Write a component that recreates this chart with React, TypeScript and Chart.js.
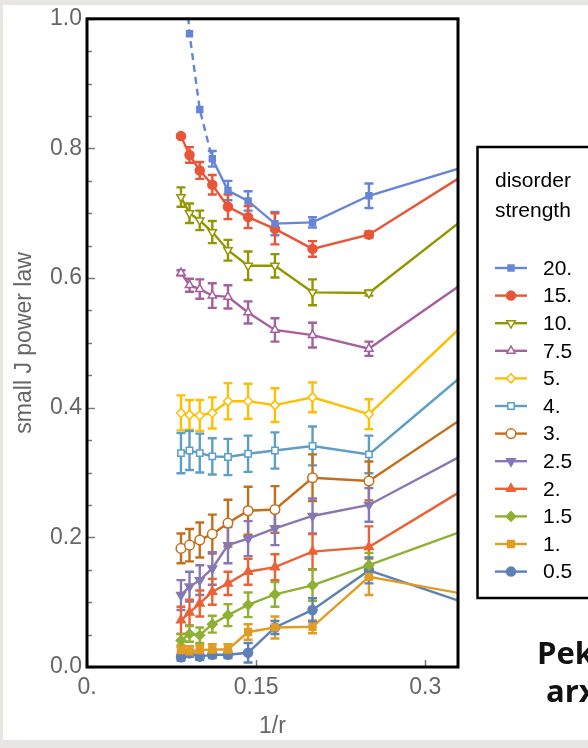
import React, { useEffect, useRef } from 'react';
import { Chart, registerables } from 'chart.js';

Chart.register(...registerables);

// System sizes r; the horizontal axis is 1/r
const radii = [12, 11, 10, 9, 8, 7, 6, 5, 4, 3];
const invR = radii.map((r) => 1 / r);

const xTickValues = [0, 0.15, 0.3];
const xTickLabels = ['0.', '0.15', '0.3'];
const yTickValues = [0, 0.2, 0.4, 0.6, 0.8, 1.0];
const yTickLabels = ['0.0', '0.2', '0.4', '0.6', '0.8', '1.0'];

const strengthLabels = ['20.', '15.', '10.', '7.5', '5.', '4.', '3.', '2.5', '2.', '1.5', '1.', '0.5'];

// exponent of the small-J power law, per disorder strength
const w20 = [1.15, 0.977, 0.86, 0.784, 0.735, 0.719, 0.684, 0.686, 0.727, 0.771];
const e20 = [0, 0, 0, 0.012, 0.015, 0.015, 0.018, 0.008, 0.019, 0];
const w15 = [0.819, 0.79, 0.766, 0.744, 0.71, 0.694, 0.676, 0.645, 0.667, 0.758];
const e15 = [0.003, 0.012, 0.013, 0.015, 0.019, 0.017, 0.024, 0.012, 0.005, 0];
const w10 = [0.725, 0.7, 0.689, 0.671, 0.643, 0.619, 0.619, 0.578, 0.577, 0.69];
const e10 = [0.015, 0.015, 0.015, 0.017, 0.016, 0.022, 0.018, 0.02, 0.004, 0];
const w7_5 = [0.608, 0.589, 0.583, 0.573, 0.571, 0.547, 0.52, 0.512, 0.491, 0.592];
const e7_5 = [0.004, 0.01, 0.015, 0.019, 0.018, 0.017, 0.018, 0.019, 0.011, 0];
const w5 = [0.392, 0.389, 0.388, 0.392, 0.41, 0.41, 0.404, 0.416, 0.39, 0.527];
const e5 = [0.027, 0.023, 0.024, 0.024, 0.028, 0.027, 0.026, 0.023, 0.023, 0];
const w4 = [0.33, 0.334, 0.33, 0.325, 0.324, 0.329, 0.334, 0.341, 0.328, 0.45];
const e4 = [0.031, 0.03, 0.03, 0.028, 0.028, 0.028, 0.028, 0.03, 0.029, 0];
const w3 = [0.183, 0.188, 0.196, 0.205, 0.222, 0.241, 0.243, 0.292, 0.287, 0.384];
const e3 = [0.023, 0.025, 0.027, 0.03, 0.036, 0.037, 0.036, 0.036, 0.03, 0];
const w2_5 = [0.111, 0.124, 0.134, 0.152, 0.188, 0.198, 0.214, 0.233, 0.25, 0.327];
const e2_5 = [0.023, 0.023, 0.023, 0.025, 0.028, 0.027, 0.026, 0.027, 0.026, 0];
const w2 = [0.072, 0.084, 0.098, 0.116, 0.129, 0.147, 0.154, 0.178, 0.185, 0.273];
const e2 = [0.021, 0.02, 0.02, 0.02, 0.018, 0.02, 0.02, 0.027, 0.032, 0];
const w1_5 = [0.041, 0.051, 0.049, 0.066, 0.08, 0.096, 0.112, 0.126, 0.157, 0.21];
const e1_5 = [0.01, 0.012, 0.012, 0.013, 0.017, 0.019, 0.019, 0.024, 0.019, 0];
const w1 = [0.026, 0.024, 0.026, 0.027, 0.027, 0.054, 0.061, 0.062, 0.139, 0.113];
const e1 = [0.008, 0.008, 0.008, 0.008, 0.008, 0.012, 0.017, 0.01, 0.028, 0];
const w0_5 = [0.015, 0.021, 0.016, 0.019, 0.019, 0.022, 0.061, 0.088, 0.149, 0.1];
const e0_5 = [0.005, 0.005, 0.005, 0.005, 0.005, 0.015, 0.01, 0.018, 0.02, 0];

type Marker = 'circle' | 'rect' | 'rectRot' | 'triangle' | 'triangleDown';

interface Series {
  label: string;
  color: string;
  values: number[];
  errors: number[];
  marker: Marker;
  open: boolean;
  size: number;
}

// listed top to bottom as in the legend
const series: Series[] = [
  { label: strengthLabels[0], color: '#6685D9', values: w20, errors: e20, marker: 'rect', open: false, size: 4.2 },
  { label: strengthLabels[1], color: '#E95536', values: w15, errors: e15, marker: 'circle', open: false, size: 4.5 },
  { label: strengthLabels[2], color: '#929600', values: w10, errors: e10, marker: 'triangleDown', open: true, size: 4.8 },
  { label: strengthLabels[3], color: '#A5609D', values: w7_5, errors: e7_5, marker: 'triangle', open: true, size: 4.8 },
  { label: strengthLabels[4], color: '#FFBF00', values: w5, errors: e5, marker: 'rectRot', open: true, size: 4.5 },
  { label: strengthLabels[5], color: '#5D9EC7', values: w4, errors: e4, marker: 'rect', open: true, size: 4.5 },
  { label: strengthLabels[6], color: '#C56E1A', values: w3, errors: e3, marker: 'circle', open: true, size: 4.8 },
  { label: strengthLabels[7], color: '#8778B3', values: w2_5, errors: e2_5, marker: 'triangleDown', open: false, size: 5 },
  { label: strengthLabels[8], color: '#EB6235', values: w2, errors: e2, marker: 'triangle', open: false, size: 5 },
  { label: strengthLabels[9], color: '#8FB032', values: w1_5, errors: e1_5, marker: 'rectRot', open: false, size: 4.8 },
  { label: strengthLabels[10], color: '#E19C24', values: w1, errors: e1, marker: 'rect', open: false, size: 4.8 },
  { label: strengthLabels[11], color: '#5E81B5', values: w0_5, errors: e0_5, marker: 'circle', open: false, size: 4.5 },
];

// the strongest-disorder curve is extrapolated (dashed) up to this point index
const DASHED_UNTIL = 3;

const LABEL_GRAY = '#666666';
const TICK_GRAY = '#7a7a7a';
const FONT = '"Liberation Sans", Arial, sans-serif';

function drawMarker(
  ctx: CanvasRenderingContext2D,
  marker: Marker,
  x: number,
  y: number,
  r: number,
  color: string,
  open: boolean
) {
  ctx.save();
  ctx.beginPath();
  if (marker === 'circle') {
    ctx.arc(x, y, r, 0, Math.PI * 2);
  } else if (marker === 'rect') {
    const s = r * Math.SQRT1_2;
    ctx.rect(x - s, y - s, 2 * s, 2 * s);
  } else if (marker === 'rectRot') {
    ctx.moveTo(x, y - r);
    ctx.lineTo(x + r, y);
    ctx.lineTo(x, y + r);
    ctx.lineTo(x - r, y);
    ctx.closePath();
  } else {
    let a = marker === 'triangle' ? 0 : Math.PI;
    for (let k = 0; k < 3; k++) {
      const px = x + Math.sin(a) * r;
      const py = y - Math.cos(a) * r;
      if (k === 0) ctx.moveTo(px, py);
      else ctx.lineTo(px, py);
      a += (2 * Math.PI) / 3;
    }
    ctx.closePath();
  }
  ctx.fillStyle = open ? '#ffffff' : color;
  ctx.fill();
  ctx.strokeStyle = color;
  ctx.lineWidth = 1.5;
  ctx.stroke();
  ctx.restore();
}

const errorBarPlugin = {
  id: 'errorBars',
  beforeDatasetsDraw(chart: any) {
    const { ctx, chartArea } = chart;
    const xs = chart.scales.x;
    const ys = chart.scales.y;
    ctx.save();
    ctx.beginPath();
    ctx.rect(chartArea.left, chartArea.top, chartArea.right - chartArea.left, chartArea.bottom - chartArea.top);
    ctx.clip();
    ctx.lineWidth = 2.4;
    series.forEach((s) => {
      ctx.strokeStyle = s.color;
      s.values.forEach((v, i) => {
        const e = s.errors[i];
        if (!e) return;
        const px = xs.getPixelForValue(invR[i]);
        const top = ys.getPixelForValue(v + e);
        const bot = ys.getPixelForValue(v - e);
        ctx.beginPath();
        ctx.moveTo(px, top);
        ctx.lineTo(px, bot);
        ctx.moveTo(px - 4.5, top);
        ctx.lineTo(px + 4.5, top);
        ctx.moveTo(px - 4.5, bot);
        ctx.lineTo(px + 4.5, bot);
        ctx.stroke();
      });
    });
    ctx.restore();
  },
};

const framePlugin = {
  id: 'frameAndLegend',
  afterDraw(chart: any) {
    const { ctx, chartArea } = chart;
    const xs = chart.scales.x;
    const ys = chart.scales.y;
    const { left, right, top, bottom } = chartArea;

    // inward ticks
    ctx.save();
    ctx.strokeStyle = TICK_GRAY;
    ctx.lineWidth = 1.5;
    for (let k = 0; k <= 20; k++) {
      const v = k * 0.05;
      const py = Math.round(ys.getPixelForValue(v)) + 0.5;
      const len = k % 4 === 0 ? 8 : 5;
      ctx.beginPath();
      ctx.moveTo(left, py);
      ctx.lineTo(left + len, py);
      ctx.stroke();
    }
    xTickValues.forEach((v) => {
      const px = Math.round(xs.getPixelForValue(v)) + 0.5;
      ctx.beginPath();
      ctx.moveTo(px, bottom);
      ctx.lineTo(px, bottom - 7);
      ctx.stroke();
    });
    ctx.restore();

    // frame
    ctx.save();
    ctx.strokeStyle = '#000000';
    ctx.lineWidth = 3;
    ctx.strokeRect(left, top, right - left, bottom - top);
    ctx.restore();

    // legend
    ctx.save();
    ctx.strokeStyle = '#000000';
    ctx.lineWidth = 2.5;
    ctx.strokeRect(477.5, 147, 200, 451);
    ctx.fillStyle = '#000000';
    ctx.font = `21px ${FONT}`;
    ctx.textBaseline = 'middle';
    ctx.textAlign = 'left';
    ctx.fillText('disorder', 495, 181);
    ctx.fillText('strength', 495, 211);
    series.forEach((s, i) => {
      const y = 268 + i * 27.6;
      ctx.strokeStyle = s.color;
      ctx.lineWidth = 2.4;
      ctx.beginPath();
      ctx.moveTo(495, y);
      ctx.lineTo(527, y);
      ctx.stroke();
      drawMarker(ctx, s.marker, 511, y, s.size, s.color, s.open);
      ctx.fillStyle = '#000000';
      ctx.fillText(s.label, 543, y + 1);
    });
    ctx.restore();
  },
};

export default function App() {
  const canvasRef = useRef<HTMLCanvasElement | null>(null);

  useEffect(() => {
    const canvas = canvasRef.current;
    if (!canvas) return;

    const datasets = series.map((s, si) => ({
      label: s.label,
      data: invR.map((x, i) => ({ x, y: s.values[i] })),
      borderColor: s.color,
      backgroundColor: s.color,
      borderWidth: 2.4,
      tension: 0,
      fill: false,
      clip: 0,
      pointStyle: s.marker === 'triangleDown' ? 'triangle' : s.marker,
      rotation: s.marker === 'triangleDown' ? 180 : 0,
      pointRadius: s.size,
      pointBorderWidth: 1.5,
      pointBorderColor: s.color,
      pointBackgroundColor: s.open ? '#ffffff' : s.color,
      segment:
        si === 0
          ? { borderDash: (c: any) => (c.p1DataIndex <= DASHED_UNTIL ? [7, 5] : undefined) }
          : undefined,
    }));

    const chart = new Chart(canvas, {
      type: 'line',
      data: { datasets },
      options: {
        animation: false,
        responsive: false,
        maintainAspectRatio: false,
        layout: { padding: { left: 0, top: 18, right: 130, bottom: 0 } },
        plugins: {
          legend: { display: false },
          tooltip: { enabled: false },
        },
        scales: {
          x: {
            type: 'linear',
            min: 0,
            max: 0.329,
            grid: { display: false, drawTicks: false },
            border: { display: false },
            afterBuildTicks: (scale: any) => {
              scale.ticks = xTickValues.map((v) => ({ value: v }));
            },
            afterFit: (scale: any) => {
              scale.height = 81;
            },
            ticks: {
              autoSkip: false,
              maxRotation: 0,
              padding: 7,
              color: LABEL_GRAY,
              font: { family: FONT, size: 23 },
              callback: (v: any) => xTickLabels[xTickValues.indexOf(Number(v))] ?? '',
            },
            title: {
              display: true,
              text: '1/r',
              color: LABEL_GRAY,
              font: { family: FONT, size: 23 },
              padding: { top: 0, bottom: 8 },
            },
          },
          y: {
            type: 'linear',
            min: 0,
            max: 1,
            grid: { display: false, drawTicks: false },
            border: { display: false },
            afterBuildTicks: (scale: any) => {
              scale.ticks = yTickValues.map((v) => ({ value: v }));
            },
            afterFit: (scale: any) => {
              scale.width = 87;
            },
            ticks: {
              padding: 5,
              color: LABEL_GRAY,
              font: { family: FONT, size: 23 },
              callback: (v: any) => {
                const idx = yTickValues.findIndex((t) => Math.abs(t - Number(v)) < 1e-9);
                return idx >= 0 ? yTickLabels[idx] : '';
              },
            },
            title: {
              display: true,
              text: 'small J power law',
              color: LABEL_GRAY,
              font: { family: FONT, size: 23 },
              padding: { top: 11, bottom: 0 },
            },
          },
        },
      },
      plugins: [errorBarPlugin, framePlugin],
    } as any);

    return () => chart.destroy();
  }, []);

  return (
    <div
      style={{
        position: 'fixed',
        left: 0,
        top: 0,
        width: 588,
        height: 748,
        background: '#e8e6e2',
        overflow: 'hidden',
      }}
    >
      <div style={{ position: 'absolute', left: 3, top: 5, width: 585, height: 735, background: '#ffffff' }} />
      <canvas
        ref={canvasRef}
        width={588}
        height={748}
        style={{ position: 'absolute', left: 0, top: 0, width: 588, height: 748 }}
      />
      <div
        style={{
          position: 'absolute',
          left: 537,
          top: 637,
          font: 'bold 31px "Open Sans", sans-serif',
          lineHeight: '31px',
          color: '#111111',
          whiteSpace: 'nowrap',
        }}
      >
        Pek
      </div>
      <div
        style={{
          position: 'absolute',
          left: 546,
          top: 675,
          font: 'bold 31px "Open Sans", sans-serif',
          lineHeight: '31px',
          color: '#111111',
          whiteSpace: 'nowrap',
        }}
      >
        arx
      </div>
    </div>
  );
}
